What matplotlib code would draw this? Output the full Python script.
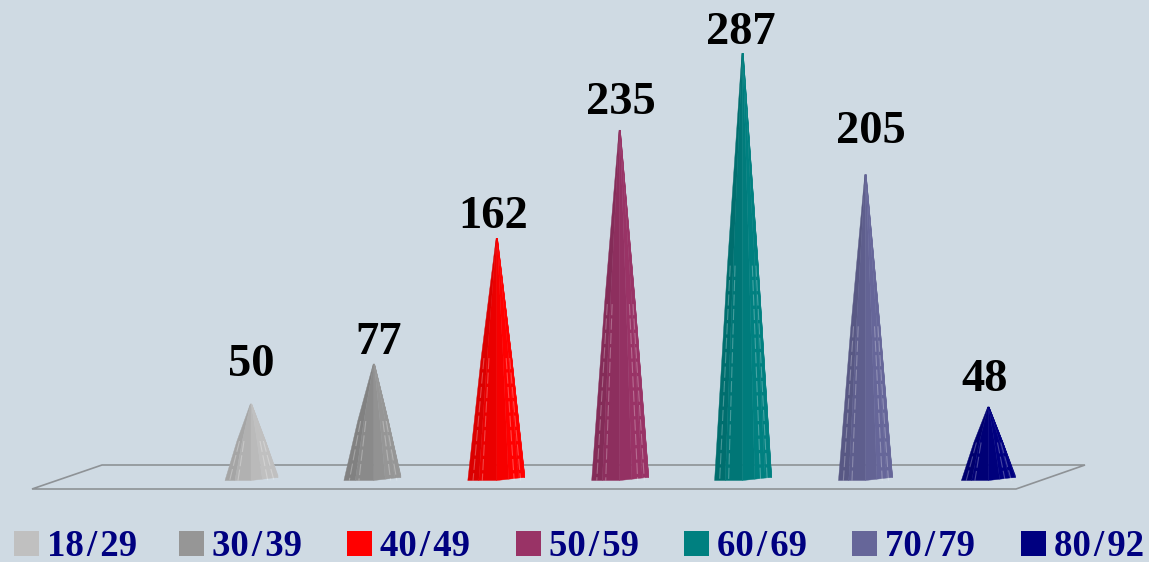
import matplotlib
matplotlib.use("Agg")
import matplotlib.pyplot as plt
from matplotlib.colors import to_rgb
from matplotlib.patches import Polygon, Rectangle
from matplotlib.transforms import Affine2D

age_groups = ["18/29", "30/39", "40/49", "50/59", "60/69", "70/79", "80/92"]
counts = [50, 77, 162, 235, 287, 205, 48]
colors = ["#C0C0C0", "#969696", "#FF0000", "#993366", "#008080", "#666699", "#000080"]

W, H = 1149, 562
BG = "#CFDAE3"
X0, X_STEP = 251.0, 122.9   # pixel of first category, pixels between categories
Y0, Y_SCALE = 478.0, 1.48   # pixel of value zero, pixels per unit

# Label placement in pixels: horizontal shift from the cone, gap above the tip
label_dx = [0, 5, -4, 1, -2, 5, -4]
label_gap = [28, 10, 10, 16, 9, 32, 16]
# Half widths of each cone base, left and right
left_w = [26, 30, 29, 28, 28, 27, 27]
right_w = [27, 27, 28, 29, 29, 27, 27]

fig = plt.figure(figsize=(W / 100, H / 100), dpi=100, facecolor=BG)
ax = fig.add_axes([0, 0, 1, 1])
ax.set_xlim(-X0 / X_STEP, (W - X0) / X_STEP)
ax.set_ylim(-(H - Y0) / Y_SCALE, Y0 / Y_SCALE)
ax.axis("off")

# Overlay transform in image pixels, origin top left
px = Affine2D().scale(1 / W, -1 / H).translate(0, 1) + fig.transFigure

# Floor of the pseudo-3D plot
floor = Polygon([(32, 489), (1016, 489), (1085, 465), (102, 465)], closed=True,
                fill=False, transform=px, zorder=1)
floor.set_edgecolor("#8E9296")
floor.set_linewidth(1.2)
ax.add_patch(floor)


def shade(color, factor):
    r, g, b = to_rgb(color)
    return (r * factor, g * factor, b * factor)


# Cone base outline as fraction of half width (x) and pixels below zero line (y)
base_frac = [(-1.0, 2.5), (-0.62, 2.5), (0.0, 2.5), (0.42, 1.2), (0.78, 0.0), (1.0, -0.4), (1.0, -2.5)]
facet_shade = [0.86, 0.92, 0.97, 1.0, 1.0, 1.0]
glint_frac = [-0.82, -0.5, 0.62, 0.85]
BULGE = 0.54      # width at mid height relative to the base, slightly convex flanks
TIP_HALF = 0.7    # half width of the blunt tip in pixels

for i, (value, color) in enumerate(zip(counts, colors)):
    tip = (i, value)
    base, mid, top = [], [], []
    for fx, dy in base_frac:
        width = left_w[i] if fx < 0 else right_w[i]
        base.append((i + fx * width / X_STEP, -dy / Y_SCALE))
        mid.append((i + fx * width * BULGE / X_STEP, value * 0.5))
        top.append((i + fx * TIP_HALF / X_STEP, value))
    for k in range(len(base) - 1):
        fc = shade(color, facet_shade[k])
        ax.add_patch(Polygon([top[k], mid[k], base[k], base[k + 1], mid[k + 1], top[k + 1]], closed=True,
                             zorder=3, facecolor=fc, edgecolor=fc, linewidth=0.3))
    for fx in glint_frac:
        width = left_w[i] if fx < 0 else right_w[i]
        ax.plot([i + fx * width * BULGE / X_STEP, i + fx * width / X_STEP], [value * 0.5, -2.5 / Y_SCALE],
                color="white", alpha=0.28, linewidth=0.8, linestyle=(0, (10, 3)), zorder=4)
    ax.annotate(str(value), xy=tip, xytext=(label_dx[i] * 0.72, label_gap[i] * 0.72),
                textcoords="offset points", ha="center", va="baseline",
                family="Liberation Serif", fontweight="bold", fontsize=33.5, color="black")

# Legend row
legend_x = [14, 179, 347, 516, 684, 852, 1021]
for lx, name, color in zip(legend_x, age_groups, colors):
    ax.add_patch(Rectangle((lx, 531), 25, 25, transform=px, facecolor=color, edgecolor="none"))
    ax.text(lx + 33, 556, name.replace("/", "\u200a/\u200a"), transform=px, ha="left", va="baseline",
            family=["Liberation Serif", "DejaVu Serif"], fontweight="bold", fontsize=26.5, color="#000080")

fig.savefig("out.png", dpi=100, facecolor=BG)
